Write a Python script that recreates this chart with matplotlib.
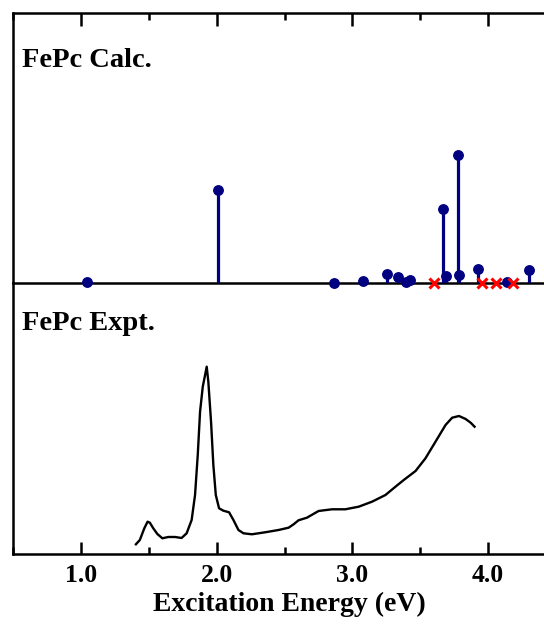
# FePc calculated stick spectrum vs experimental absorption
import matplotlib
matplotlib.use("Agg")
import matplotlib.pyplot as plt
from matplotlib.ticker import MultipleLocator

# calculated transitions (eV, oscillator strength, arb. units)
calc_energy = [1.047, 2.009, 2.864, 3.078, 3.257, 3.336, 3.395, 3.425,
               3.670, 3.688, 3.777, 3.786, 3.929, 4.138, 4.302]
calc_strength = [1.4, 93.3, 0.7, 2.7, 9.3, 6.0, 1.0, 3.3,
                 74.3, 7.7, 128.0, 8.3, 14.7, 1.0, 13.3]
# dark (zero intensity) states
dark_energy = [3.602, 3.953, 4.059, 4.182]
dark_strength = [0.0, 0.0, 0.0, 0.0]

# experimental spectrum (eV, absorbance, arb. units)
expt_energy = [1.404, 1.433, 1.466, 1.490, 1.507, 1.532, 1.562, 1.599, 1.643,
               1.692, 1.741, 1.778, 1.815, 1.840, 1.860, 1.877, 1.897, 1.914,
               1.926, 1.938, 1.958, 1.975, 1.993, 2.017, 2.049, 2.091, 2.123,
               2.160, 2.197, 2.259, 2.357, 2.456, 2.530, 2.567, 2.603, 2.665,
               2.751, 2.850, 2.948, 3.047, 3.145, 3.244, 3.318, 3.379, 3.466,
               3.539, 3.613, 3.687, 3.736, 3.786, 3.835, 3.872, 3.901]
expt_abs = [9.7, 14.0, 25.7, 32.3, 31.3, 25.7, 20.0, 15.7, 17.0,
            17.0, 16.0, 20.7, 34.0, 59.0, 99.0, 142.3, 167.3, 179.0,
            187.3, 172.3, 132.3, 89.0, 59.0, 45.7, 43.3, 41.7, 34.0,
            24.0, 20.7, 19.7, 21.7, 24.0, 26.3, 29.7, 33.7, 36.3,
            43.0, 44.7, 44.7, 47.3, 52.3, 59.0, 67.3, 74.0, 83.0,
            95.7, 112.3, 129.0, 136.3, 138.0, 135.0, 131.3, 127.3]

xticks = [1.0, 2.0, 3.0, 4.0]
xticklabels = ["1.0", "2.0", "3.0", "4.0"]

plt.rcParams["font.family"] = ["Liberation Serif", "DejaVu Serif"]
plt.rcParams["font.weight"] = "bold"

fig = plt.figure(figsize=(5.44, 6.24), dpi=100)
ax1 = fig.add_axes([0.02445, 0.5460, 1.0147, 0.4336])
ax2 = fig.add_axes([0.02445, 0.1122, 1.0147, 0.4338])
# keep the top panel (and its baseline / markers) above the lower panel
ax1.set_zorder(2)
ax1.patch.set_alpha(0)

navy = "#000080"
lw_axis = 1.8

# top panel: stick spectrum
for e, s in zip(calc_energy, calc_strength):
    ax1.plot([e, e], [0, s], color=navy, lw=2.3, solid_capstyle="butt", zorder=3)
ax1.plot(calc_energy, calc_strength, "o", color=navy, ms=6.8, zorder=4, clip_on=False)
ax1.plot(dark_energy, dark_strength, "x", color="red", ms=6.5, mew=2.2, zorder=4, clip_on=False)
ax1.set_ylim(0, 270.6)
ax1.text(0.0152, 0.799, "FePc Calc.", transform=ax1.transAxes, fontsize=20.5,
         fontweight="bold", va="baseline", ha="left")

# bottom panel: experiment
ax2.plot(expt_energy, expt_abs, color="black", lw=1.7)
ax2.set_ylim(0, 270.7)
ax2.text(0.0152, 0.8275, "FePc Expt.", transform=ax2.transAxes, fontsize=20.5,
         fontweight="bold", va="baseline", ha="left")

for ax in (ax1, ax2):
    ax.set_xlim(0.5, 4.57)
    ax.set_yticks([])
    ax.spines["right"].set_visible(False)
    for sp in ax.spines.values():
        sp.set_linewidth(lw_axis)
    ax.xaxis.set_major_locator(MultipleLocator(1.0))
    ax.xaxis.set_minor_locator(MultipleLocator(0.5))

ax1.spines["bottom"].set_zorder(2.5)
ax1.tick_params(axis="x", which="both", direction="in", bottom=False, top=True,
                labelbottom=False, labeltop=False, width=lw_axis)
ax1.tick_params(axis="x", which="major", length=9.4)
ax1.tick_params(axis="x", which="minor", length=5)

ax2.spines["top"].set_visible(False)
ax2.set_xticks(xticks)
ax2.set_xticklabels(xticklabels, fontsize=18.5, fontweight="bold")
ax2.tick_params(axis="x", which="both", direction="in", bottom=True, top=False,
                width=lw_axis, pad=7)
ax2.tick_params(axis="x", which="major", length=8.8)
ax2.tick_params(axis="x", which="minor", length=5)
ax2.set_xlabel("Excitation Energy (eV)", fontsize=20, fontweight="bold", labelpad=4)

fig.savefig("out.png", dpi=100)
